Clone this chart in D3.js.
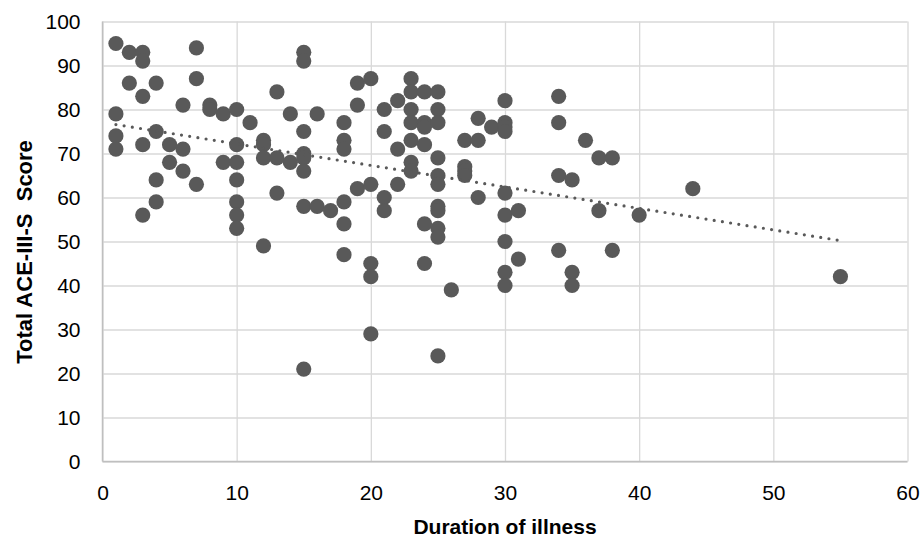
<!DOCTYPE html>
<html>
<head>
<meta charset="utf-8">
<script src="https://cdn.jsdelivr.net/npm/d3@7"></script>
<style>
  body { margin: 0; background: #fff; }
  text { font-family: "Liberation Sans", Arial, sans-serif; fill: #000; }
</style>
</head>
<body>
<div id="canvas"></div>
<script>
"use strict"

let drawingWidth = 922;
let drawingHeight = 541;

// duration of illness (years) and total ACE-III-S score
let duration = [
    1, 1, 1, 1,
    2, 2,
    3, 3, 3, 3, 3,
    4, 4, 4, 4,
    5, 5,
    6, 6, 6,
    7, 7, 7,
    8, 8,
    9, 9,
    10, 10, 10, 10, 10, 10, 10,
    11,
    12, 12, 12, 12,
    13, 13, 13,
    14, 14,
    15, 15, 15, 15, 15, 15, 15, 15,
    16, 16,
    17,
    18, 18, 18, 18, 18, 18,
    19, 19, 19,
    20, 20, 20, 20, 20,
    21, 21, 21, 21,
    22, 22, 22,
    23, 23, 23, 23, 23, 23, 23,
    24, 24, 24, 24, 24, 24,
    25, 25, 25, 25, 25, 25, 25, 25, 25, 25, 25,
    26,
    27, 27, 27, 27,
    28, 28, 28,
    29,
    30, 30, 30, 30, 30, 30, 30, 30, 30,
    31, 31,
    34, 34, 34, 34,
    35, 35, 35,
    36,
    37, 37,
    38, 38,
    40,
    44,
    55
];
let score = [
    95, 79, 74, 71,
    93, 86,
    93, 91, 83, 72, 56,
    86, 75, 64, 59,
    72, 68,
    81, 71, 66,
    94, 87, 63,
    81, 80,
    79, 68,
    80, 72, 68, 64, 59, 56, 53,
    77,
    73, 72, 69, 49,
    84, 69, 61,
    79, 68,
    93, 91, 75, 70, 69, 66, 58, 21,
    79, 58,
    57,
    77, 73, 71, 59, 54, 47,
    86, 81, 62,
    87, 63, 45, 42, 29,
    80, 75, 60, 57,
    82, 71, 63,
    87, 84, 80, 77, 73, 68, 66,
    84, 77, 76, 72, 54, 45,
    84, 80, 77, 69, 65, 63, 58, 57, 53, 51, 24,
    39,
    73, 67, 66, 65,
    78, 73, 60,
    76,
    82, 77, 76, 75, 61, 56, 50, 43, 40,
    57, 46,
    83, 77, 65, 48,
    64, 43, 40,
    73,
    69, 57,
    69, 48,
    56,
    62,
    42
];

let xTicks = [0, 10, 20, 30, 40, 50, 60];
let yTicks = [0, 10, 20, 30, 40, 50, 60, 70, 80, 90, 100];

let xTitle = "Duration of illness";
let yTitle = "Total ACE-III-S  Score";

let plotLeft = 102.5, plotRight = 907.5, plotTop = 21.5, plotBottom = 461.5;

let x = d3.scaleLinear().domain([0, 60]).range([plotLeft, plotRight]);
let y = d3.scaleLinear().domain([0, 100]).range([plotBottom, plotTop]);

let drawing = d3.select("#canvas")
    .append("svg")
    .attr("width", drawingWidth)
    .attr("height", drawingHeight);

/* grid lines */
drawing.append("g")
    .attr("transform", "translate(0," + plotBottom + ")")
    .call(d3.axisBottom(x).tickValues(xTicks).tickSize(-(plotBottom - plotTop)).tickFormat(""))
    .call(g => g.select(".domain").remove())
    .call(g => g.selectAll("line").attr("stroke", "#d9d9d9").attr("stroke-width", 1.3));

drawing.append("g")
    .attr("transform", "translate(" + plotLeft + ",0)")
    .call(d3.axisLeft(y).tickValues(yTicks).tickSize(-(plotRight - plotLeft)).tickFormat(""))
    .call(g => g.select(".domain").remove())
    .call(g => g.selectAll("line").attr("stroke", "#d9d9d9").attr("stroke-width", 1.3));

/* axis lines */
drawing.append("line")
    .attr("x1", plotLeft).attr("x2", plotLeft)
    .attr("y1", plotTop).attr("y2", plotBottom)
    .attr("stroke", "#bfbfbf").attr("stroke-width", 1.5);
drawing.append("line")
    .attr("x1", plotLeft).attr("x2", plotRight)
    .attr("y1", plotBottom).attr("y2", plotBottom)
    .attr("stroke", "#bfbfbf").attr("stroke-width", 1.5);

/* tick labels */
drawing.append("g")
    .attr("transform", "translate(0," + plotBottom + ")")
    .call(d3.axisBottom(x).tickValues(xTicks).tickSize(0).tickPadding(24))
    .call(g => g.select(".domain").remove())
    .call(g => g.selectAll("text")
        .attr("font-family", "Liberation Sans, Arial, sans-serif")
        .attr("font-size", 21).attr("fill", "#000"));

drawing.append("g")
    .attr("transform", "translate(" + plotLeft + ",0)")
    .call(d3.axisLeft(y).tickValues(yTicks).tickSize(0).tickPadding(22))
    .call(g => g.select(".domain").remove())
    .call(g => g.selectAll("text")
        .attr("font-family", "Liberation Sans, Arial, sans-serif")
        .attr("font-size", 21).attr("fill", "#000"));

/* points */
let points = d3.zip(duration, score);

drawing.append("g")
    .selectAll("circle")
    .data(points)
    .join("circle")
    .attr("cx", d => x(d[0]))
    .attr("cy", d => y(d[1]))
    .attr("r", 7.6)
    .attr("fill", "#595959");

/* linear trend line, least squares over the points */
let mx = d3.mean(duration), my = d3.mean(score);
let sxy = d3.sum(points, d => (d[0] - mx) * (d[1] - my));
let sxx = d3.sum(duration, v => (v - mx) * (v - mx));
let slope = sxy / sxx;
let intercept = my - slope * mx;
let trendX = d3.extent(duration);

drawing.append("line")
    .attr("x1", x(trendX[0]))
    .attr("y1", y(intercept + slope * trendX[0]))
    .attr("x2", x(trendX[1]))
    .attr("y2", y(intercept + slope * trendX[1]))
    .attr("stroke", "#595959")
    .attr("stroke-width", 3.2)
    .attr("stroke-linecap", "round")
    .attr("stroke-dasharray", "0,8.3");

/* axis titles */
drawing.append("text")
    .attr("x", (plotLeft + plotRight) / 2)
    .attr("y", 534)
    .attr("text-anchor", "middle")
    .attr("font-size", 21)
    .attr("font-weight", "bold")
    .text(xTitle);

drawing.append("text")
    .attr("transform", "translate(32,252) rotate(-90)")
    .attr("text-anchor", "middle")
    .attr("font-size", 22)
    .attr("font-weight", "bold")
    .style("white-space", "pre")
    .text(yTitle);
</script>
</body>
</html>
